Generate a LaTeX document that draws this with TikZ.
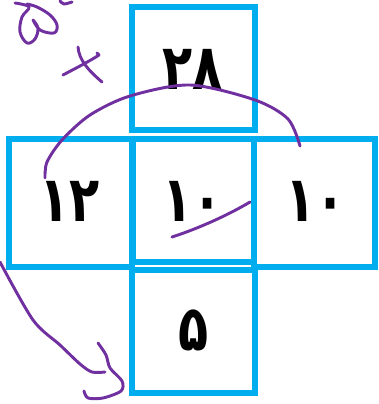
\documentclass[tikz,border=0pt]{standalone}
\usepackage{fontspec}
\newfontfamily\fanum[Script=Arabic]{DejaVu Sans}
\definecolor{boxblue}{HTML}{00AEEF}
\definecolor{pen}{HTML}{7030A0}

\begin{document}
\begin{tikzpicture}[x=0.03cm,y=-0.03cm,
    cell/.style={draw=boxblue,line width=5.2pt},
    num/.style={font=\fanum\bfseries\fontsize{54}{54}\selectfont,inner sep=0pt,xscale=0.78},
    ink/.style={draw=pen,line width=2.5pt,line cap=round,line join=round}]
  \useasboundingbox (0,0) rectangle (378,404);
  % the five squares
  \draw[cell] (132,7) rectangle (255,130);
  \draw[cell] (9,139) rectangle (132,267);
  \draw[cell] (133,139) rectangle (254,262);
  \draw[cell] (254,139) rectangle (375,267);
  \draw[cell] (132,270) rectangle (255,393);
  % numbers
  \node[num] (up) at (193,69) {۲۸};
  \node[num] (left) at (70,201) {۱۲};
  \node[num] (mid) at (193,201) {۱۰};
  \node[num] (right) at (316,201) {۱۰};
  \node[num] (down) at (194,330) {۵};
  % pen strokes
  \draw[ink] plot[smooth,tension=0.6] coordinates {(15,3) (29,7) (22,17) (20,32) (27,43) (35,39) (38,28) (33,20) (40,30) (54,33) (57,25) (50,15) (37,7) (27,4)};
  \draw[ink] plot[smooth] coordinates {(60,1) (64,4) (72,2)};
  \draw[ink] (63,75) .. controls (78,67) and (90,61) .. (99,55) -- (97,53);
  \draw[ink] (78,47) .. controls (79,60) and (88,70) .. (102,82);
  \draw[ink] plot[smooth] coordinates {(45,178) (47,162) (62,140) (90,115) (130,96) (190,85) (255,100) (288,119) (300,146)};
  \draw[ink] (172,237) .. controls (200,228) and (230,214) .. (250,202);
  \draw[ink] plot[smooth] coordinates {(0,262) (33,320) (60,345) (80,364) (92,372) (105,372)};
  \draw[ink] plot[smooth] coordinates {(98,343) (106,355) (110,368) (122,381) (121,391) (103,398) (88,398) (84,391)};
\end{tikzpicture}
\end{document}
